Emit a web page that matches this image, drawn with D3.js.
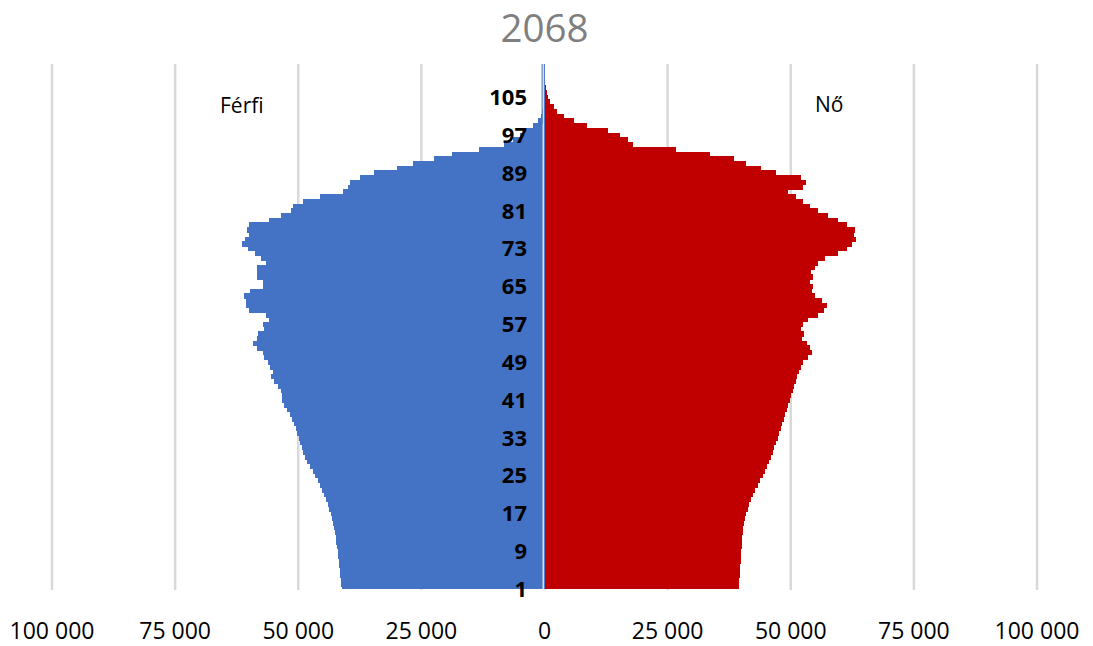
<!DOCTYPE html>
<html>
<head>
<meta charset="utf-8">
<script src="https://cdn.jsdelivr.net/npm/d3@7"></script>
<style>
  html, body { margin: 0; padding: 0; background: #fff; }
  svg { display: block; font-family: "Open Sans", "Noto Sans", sans-serif; }
</style>
</head>
<body>
<svg id="chart" width="1093" height="646"></svg>
<script>
// Age groups (1 .. 112)
const ages = d3.range(1, 113);

// Male population by age (1 .. 112)
const male = [
  41200, 41300, 41400, 41500, 41600, 41700, 41800, 41900, 42000, 42100,
  42300, 42400, 42600, 42800, 43000, 43200, 43400, 43700, 44000, 44400,
  44800, 45200, 45600, 46000, 46500, 47000, 47600, 48200, 48700, 49000,
  49300, 49600, 49900, 50200, 50500, 50800, 51200, 51700, 52300, 52800,
  53200, 53200, 53600, 54200, 55000, 55600, 55200, 55800, 56200, 57000,
  57200, 58300, 59100, 58300, 58100, 57000, 57200, 56000, 56600, 60100,
  60700, 60700, 61100, 59700, 57200, 57200, 58300, 58300, 58300, 56600,
  57500, 58700, 60300, 61500, 60900, 59900, 60500, 59900, 56000, 53600,
  51500, 51000, 49100, 45500, 41000, 39800, 39500, 37400, 34700, 29900,
  26800, 22500, 18700, 13400, 8300, 6300, 5000, 3900, 2400, 1400,
  800, 450, 250, 150, 100, 60, 40, 25, 15, 10,
  5, 3
];

// Female population by age (1 .. 112)
const female = [
  39400, 39500, 39500, 39600, 39700, 39700, 39800, 39800, 39900, 40000,
  40100, 40200, 40300, 40400, 40600, 40800, 41000, 41300, 41600, 42000,
  42400, 42800, 43300, 43800, 44300, 44700, 45100, 45500, 45900, 46300,
  46700, 47100, 47400, 47700, 48000, 48300, 48600, 48900, 49200, 49500,
  49800, 50100, 50400, 50700, 51000, 51300, 51600, 52000, 52500, 53500,
  54300, 54000, 53200, 52200, 52600, 52000, 52400, 53500, 55500, 56800,
  57300, 56300, 55000, 54400, 54600, 54000, 54500, 54200, 55000, 55500,
  57000, 59500, 61500, 62500, 63300, 62800, 63000, 61500, 59500, 57500,
  55500, 54000, 52500, 51000, 49500, 52500, 53000, 52000, 47000, 44000,
  41000, 38500, 33700, 26600, 17900, 17000, 15400, 12800, 8700, 5900,
  3900, 2600, 1900, 1200, 800, 500, 300, 200, 100, 50,
  20, 10
];

// Axis labels
const xTicks = [-100000, -75000, -50000, -25000, 0, 25000, 50000, 75000, 100000];
const ageLabels = [1, 9, 17, 25, 33, 41, 49, 57, 65, 73, 81, 89, 97, 105];
const title = "2068";
const seriesNames = ["Férfi", "Nő"];

const svg = d3.select("#chart");
const plot = { left: 52, right: 1037, top: 64, bottom: 589 };

const x = d3.scaleLinear().domain([-100000, 100000]).range([plot.left, plot.right]);
const y = d3.scalePoint().domain(ages).range([plot.bottom, plot.top]);
const bh = y.step();

// Clip bars to the plot area
svg.append("defs").append("clipPath").attr("id", "plotclip")
  .append("rect")
  .attr("x", plot.left).attr("y", plot.top)
  .attr("width", plot.right - plot.left).attr("height", plot.bottom - plot.top);

// Vertical gridlines
svg.append("g")
  .selectAll("line")
  .data(xTicks.filter(d => d !== 0))
  .join("line")
  .attr("x1", d => x(d)).attr("x2", d => x(d))
  .attr("y1", plot.top).attr("y2", plot.bottom + 1)
  .attr("stroke", "#d9d9d9").attr("stroke-width", 2.5);

const bars = svg.append("g")
  .attr("clip-path", "url(#plotclip)")
  .attr("shape-rendering", "crispEdges");

// Male bars, to the left of zero
bars.append("g")
  .selectAll("rect")
  .data(ages)
  .join("rect")
  .attr("x", (d, i) => x(-male[i]))
  .attr("y", d => y(d) - bh / 2)
  .attr("width", (d, i) => x(0) - x(-male[i]))
  .attr("height", bh + 0.6)
  .attr("fill", "#4472c4");

// Female bars, to the right of zero
bars.append("g")
  .selectAll("rect")
  .data(ages)
  .join("rect")
  .attr("x", x(0))
  .attr("y", d => y(d) - bh / 2)
  .attr("width", (d, i) => x(female[i]) - x(0))
  .attr("height", bh + 0.6)
  .attr("fill", "#c00000");

// Outline of the male series along the zero line
svg.append("line")
  .attr("x1", x(0) - 1.2).attr("x2", x(0) - 1.2)
  .attr("y1", plot.top).attr("y2", plot.bottom)
  .attr("stroke", "#d6deef").attr("stroke-width", 1.6);
svg.append("line")
  .attr("x1", x(0) - 2.4).attr("x2", x(0) - 2.4)
  .attr("y1", plot.top).attr("y2", plot.top + 60)
  .attr("stroke", "#4472c4").attr("stroke-width", 1);

// Age labels
svg.append("g")
  .selectAll("text")
  .data(ageLabels)
  .join("text")
  .attr("x", 527)
  .attr("y", d => y(d))
  .attr("dy", "0.36em")
  .attr("text-anchor", "end")
  .attr("font-size", 22)
  .attr("font-weight", "bold")
  .attr("fill", "#000")
  .text(d => d);

// Horizontal axis labels
const fmt = v => d3.format(",")(Math.abs(v)).replace(/,/g, "\u00a0");
svg.append("g")
  .selectAll("text")
  .data(xTicks)
  .join("text")
  .attr("x", d => x(d))
  .attr("y", 639)
  .attr("text-anchor", "middle")
  .attr("font-size", 23)
  .attr("fill", "#000")
  .text(d => fmt(d));

// Title
svg.append("text")
  .attr("x", x(0)).attr("y", 41.5)
  .attr("text-anchor", "middle")
  .attr("font-size", 38.5)
  .attr("fill", "#7f7f7f")
  .text(title);

// Series labels
svg.append("text")
  .attr("x", 220).attr("y", 113)
  .attr("font-size", 21)
  .attr("fill", "#000")
  .text(seriesNames[0]);
svg.append("text")
  .attr("x", 815).attr("y", 112)
  .attr("font-size", 21)
  .attr("fill", "#000")
  .text(seriesNames[1]);
</script>
</body>
</html>
